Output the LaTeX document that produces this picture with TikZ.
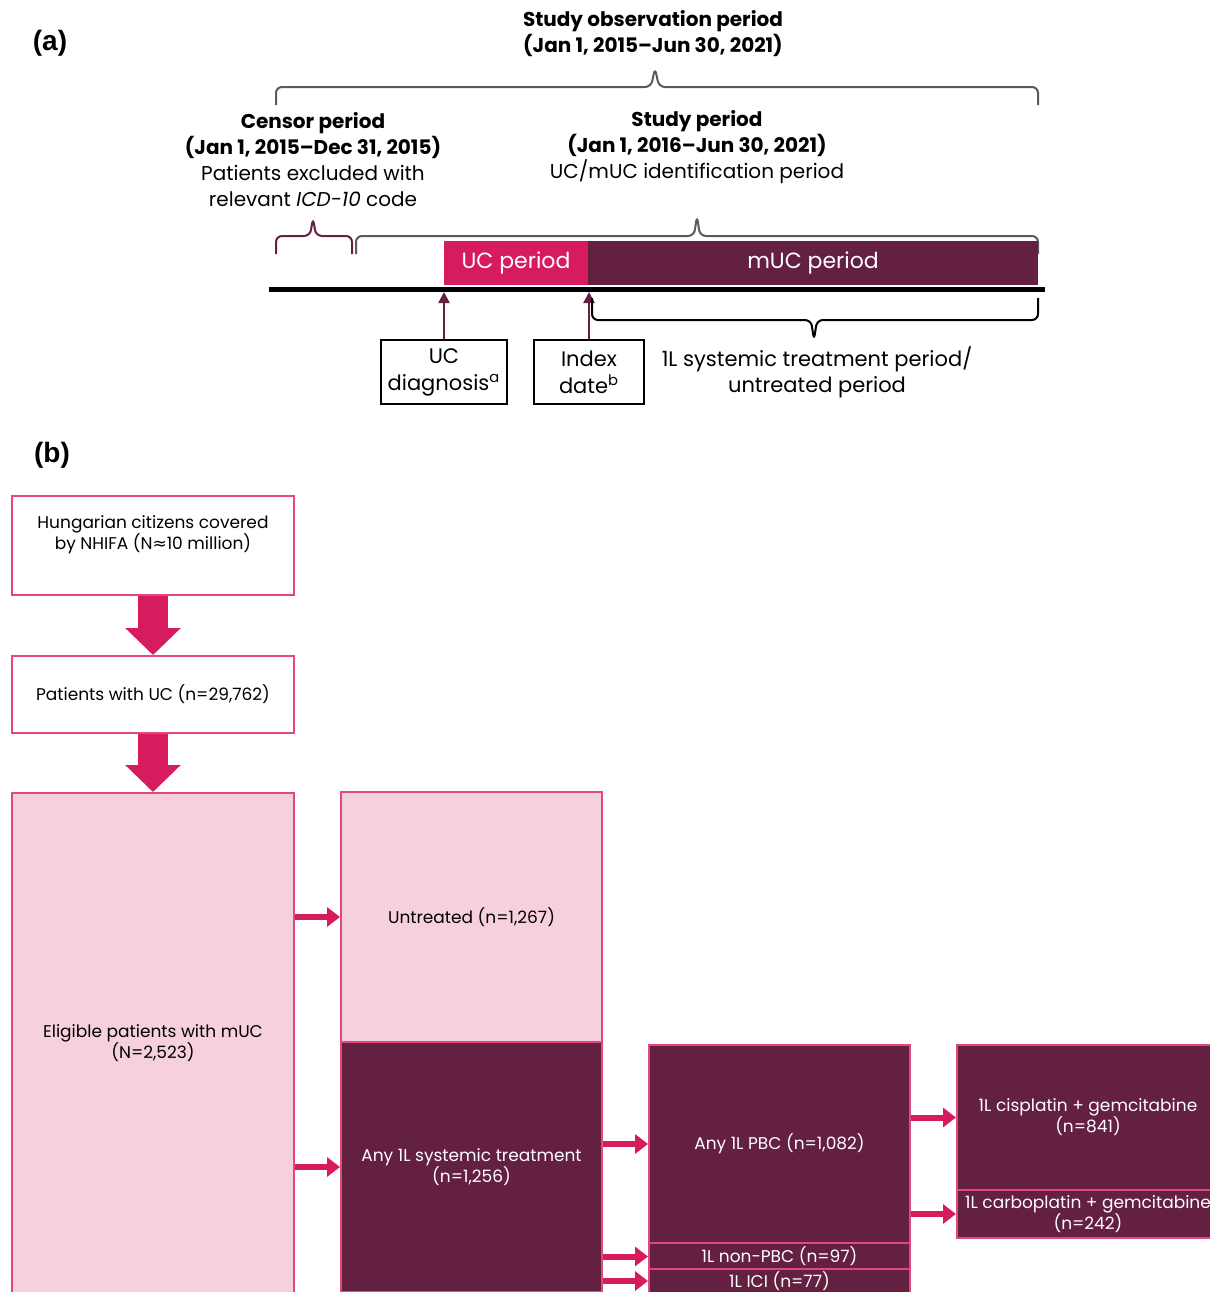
\documentclass[tikz,border=0pt]{standalone}
\usepackage{fontspec}
\setmainfont{Poppins}
\newfontfamily\panelfont{Liberation Sans}
\newfontfamily\symfont{DejaVu Sans}
\usepackage{xcolor}
\usetikzlibrary{arrows.meta,positioning}
\definecolor{ucred}{RGB}{214,27,94}
\definecolor{mucwine}{RGB}{100,32,64}
\definecolor{palepink}{RGB}{247,208,224}
\definecolor{edgepink}{RGB}{226,72,124}
\definecolor{bracegray}{RGB}{90,90,90}

\begin{document}
\begin{tikzpicture}[x=0.5pt,y=-0.5pt,
    panel/.style={font=\panelfont\bfseries\fontsize{14}{16}\selectfont},
    headtext/.style={align=center,inner sep=0pt,font=\fontsize{10}{13}\selectfont},
    box/.style={draw=edgepink,line width=1pt,inner sep=0pt,align=center,font=\fontsize{8.5}{10.5}\selectfont},
    lightbox/.style={box,fill=palepink},
    darkbox/.style={box,fill=mucwine,text=white},
    periodbar/.style={inner sep=0pt,minimum height=22pt,text=white,font=\fontsize{11}{13}\selectfont},
    datebox/.style={draw=black,line width=1.3pt,inner sep=0pt,align=center,minimum height=32pt,font=\fontsize{10.5}{13.5}\selectfont},
    bigarrow/.style={ucred,line width=15pt,-{Triangle[length=13.5pt,width=27pt]}},
    sidearrow/.style={ucred,line width=3pt,-{Triangle[length=6.5pt,width=9.5pt]}},
    uparrow/.style={mucwine,line width=1.2pt,-{Triangle[length=5.5pt,width=5.5pt]}},
    bracket/.style={bracegray,line width=1pt,rounded corners=3pt}]
    \useasboundingbox (0,0) rectangle (1210,1292);
    \clip (0,0) rectangle (1210,1292);

    % (a) Timeline
    \node[panel] (alabel) at (50,43) {(a)};
    \node[headtext] (obs) at (653,34) {\textbf{Study observation period}\\\textbf{(Jan 1, 2015–Jun 30, 2021)}};
    \draw[bracket] (276,105) -- (276,87) -- (651,87) -- (655,68) -- (659,87) -- (1038,87) -- (1038,105);

    \node[headtext] (censor) at (313,160) {\textbf{Censor period}\\\textbf{(Jan 1, 2015–Dec 31, 2015)}\\Patients excluded with\\relevant \textit{ICD-10} code};
    \node[headtext] (study) at (697,147) {\textbf{Study period}\\\textbf{(Jan 1, 2016–Jun 30, 2021)}\\UC/mUC identification period};

    \draw[bracket,mucwine] (276,254) -- (276,236) -- (310,236) -- (313,218) -- (316,236) -- (352,236) -- (352,254);
    \draw[bracket] (356,254) -- (356,236) -- (694,236) -- (697,216) -- (700,236) -- (1038,236) -- (1038,254);

    \node[periodbar,fill=ucred,minimum width=72pt] (ucper) at (516,263) {UC period};
    \node[periodbar,fill=mucwine,minimum width=225pt] (mucper) at (813,263) {mUC period};

    \coordinate (tlstart) at (269,289);
    \coordinate (tlend) at (1045,289);
    \coordinate (tlbelow) at (269,292);
    \draw[line width=2.5pt] (tlstart) -- (tlend);

    \node[datebox,minimum width=63pt] (ucdiag) at (444,372) {UC\\diagnosis\textsuperscript{a}};
    \node[datebox,minimum width=55pt] (index) at (589,372) {Index\\date\textsuperscript{b}};
    \draw[uparrow] (ucdiag.north) -- (ucdiag.north |- tlbelow);
    \draw[uparrow] (index.north) -- (index.north |- tlbelow);

    \draw[bracket,black] (592,298) -- (592,320) -- (811,320) -- (814,340) -- (817,320) -- (1038,320) -- (1038,298);
    \node[headtext,font=\fontsize{10.5}{13}\selectfont] (period) at (817,372) {1L systemic treatment period/\\untreated period};

    % (b) Flow chart
    \node[panel] (blabel) at (52,455) {(b)};

    \node[box,fill=white,minimum width=141pt,minimum height=49.5pt] (citizens) at (153,545.5) {Hungarian citizens covered\\by NHIFA (N{\symfont ≈}10 million)\\[2pt]};
    \node[box,fill=white,minimum width=141pt,minimum height=38.5pt] (ucpat) at (153,694.5) {Patients with UC (n=29,762)};
    \node[lightbox,minimum width=141pt,minimum height=250pt] (eligible) at (153,1043) {Eligible patients with mUC\\(N=2,523)};

    \node[lightbox,minimum width=130.5pt,minimum height=125pt] (untreated) at (471.5,917) {Untreated (n=1,267)};
    \node[darkbox,minimum width=130.5pt,minimum height=125pt] (anysys) at (471.5,1167) {Any 1L systemic treatment\\(n=1,256)};

    \node[darkbox,minimum width=130.5pt,minimum height=99pt] (pbc) at (779.5,1144) {Any 1L PBC (n=1,082)};
    \node[darkbox,minimum width=130.5pt,minimum height=13.5pt] (nonpbc) at (779.5,1256.5) {1L non-PBC (n=97)};
    \node[darkbox,minimum width=130.5pt,minimum height=12pt] (ici) at (779.5,1281) {1L ICI (n=77)};

    \node[darkbox,minimum width=131pt,minimum height=72.5pt] (cis) at (1088,1117.5) {1L cisplatin + gemcitabine\\(n=841)};
    \node[darkbox,minimum width=131pt,minimum height=24pt] (carbo) at (1088,1214) {1L carboplatin + gemcitabine\\(n=242)};

    \draw[bigarrow] (citizens.south) -- (ucpat.north);
    \draw[bigarrow] (ucpat.south) -- (eligible.north);

    \draw[sidearrow] (eligible.east |- untreated.west) -- (untreated.west);
    \draw[sidearrow] (eligible.east |- anysys.west) -- (anysys.west);
    \draw[sidearrow] (anysys.east |- pbc.west) -- (pbc.west);
    \draw[sidearrow] (anysys.east |- nonpbc.west) -- (nonpbc.west);
    \draw[sidearrow] (anysys.east |- ici.west) -- (ici.west);
    \draw[sidearrow] (pbc.east |- cis.west) -- (cis.west);
    \draw[sidearrow] (pbc.east |- carbo.west) -- (carbo.west);
\end{tikzpicture}
\end{document}
